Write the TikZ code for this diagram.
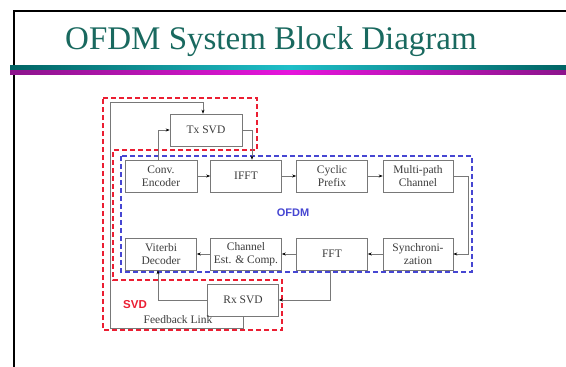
\documentclass[tikz,border=0pt]{standalone}
\usepackage{fontspec}
\setmainfont{Liberation Serif}
\setsansfont{Liberation Sans}
\usetikzlibrary{arrows.meta,calc}
\definecolor{titleteal}{RGB}{25,105,95}
\definecolor{boxgray}{RGB}{120,120,120}
\definecolor{txtgray}{RGB}{60,60,60}
\definecolor{svdred}{RGB}{235,30,50}
\definecolor{ofdmblue}{RGB}{70,70,210}
\definecolor{darkteal}{RGB}{0,100,100}
\definecolor{cyanbar}{RGB}{30,190,200}
\definecolor{purplebar}{RGB}{140,20,140}
\definecolor{magbar}{RGB}{230,20,220}
\tikzset{
  blk/.style={draw=boxgray, line width=0.6pt, fill=white, minimum width=71pt, minimum height=32pt,
    inner sep=0pt, align=center, text=txtgray, font=\fontsize{11.5}{12.5}\selectfont},
  conn/.style={draw=boxgray, line width=0.6pt},
  arr/.style={conn, -{Stealth[length=4pt,width=3pt,color=black]}},
  reddash/.style={draw=svdred, line width=1.3pt, dash pattern=on 5pt off 3pt},
  bluedash/.style={draw=ofdmblue, line width=1.3pt, dash pattern=on 5pt off 3pt}
}
\begin{document}
\begin{tikzpicture}[x=1pt,y=-1pt]
\useasboundingbox (0,0) rectangle (566,367);
\fill[white] (0,0) rectangle (566,367);
% slide frame
\draw[black, line width=1.4pt] (14,367) -- (14,11) -- (566,11);
% title
\node[text=titleteal, font=\fontsize{33}{36}\selectfont] (title) at (271,42) {OFDM System Block Diagram};
% bars
\shade[left color=darkteal, right color=darkteal, middle color=cyanbar] (10,65) rectangle (566,70);
\shade[left color=purplebar, right color=purplebar, middle color=magbar] (10,70) rectangle (566,74);
% dashed regions
\draw[reddash] (103,98) -- (257,98) -- (257,150) -- (113,150) -- (113,280) -- (282,280) -- (282,330) -- (103,330) -- cycle;
\draw[bluedash] (121,156) rectangle (472,272);
% blocks
\node[blk, minimum width=72pt] (tx) at (206,130) {Tx SVD};
\node[blk, minimum width=72pt] (conv) at (161,176) {Conv.\\Encoder};
\node[blk] (ifft) at (246,176) {IFFT};
\node[blk] (cp) at (332,176) {Cyclic\\Prefix};
\node[blk, minimum width=70pt] (mp) at (418,176) {Multi-path\\Channel};
\node[blk, minimum width=70pt] (sync) at (418,254) {Synchroni-\\zation};
\node[blk] (fft) at (332,254) {FFT};
\node[blk] (ch) at (246,254) {Channel\\Est. \& Comp.};
\node[blk] (vit) at (161,254) {Viterbi\\Decoder};
\node[blk] (rx) at (243,300) {Rx SVD};
% labels
\node[text=ofdmblue, font=\sffamily\bfseries\fontsize{11}{12}\selectfont] (ofdm) at (293,213) {OFDM};
\node[text=svdred, font=\sffamily\bfseries\fontsize{11.5}{12}\selectfont] (svd) at (135,305) {SVD};
\node[text=txtgray, font=\fontsize{11.5}{12}\selectfont, inner sep=1pt] (fbl) at (178,320) {Feedback Link};
% connectors
\draw[arr] ([xshift=-3pt]conv.north) |- (tx.west);
\draw[arr] (tx.east) -| ([xshift=6pt]ifft.north);
\draw[arr] (conv.east) -- (ifft.west);
\draw[arr] (ifft.east) -- (cp.west);
\draw[arr] (cp.east) -- (mp.west);
\coordinate (mpr) at (468,176);
\draw[arr] (mp.east) -- (mpr) |- (sync.east);
\draw[arr] (sync.west) -- (fft.east);
\draw[arr] (fft.west) -- (ch.east);
\draw[arr] (ch.west) -- (vit.east);
\draw[arr] ([xshift=-2pt]fft.south) |- (rx.east);
\draw[arr] (rx.west) -| ([xshift=-3pt]vit.south);
\coordinate (fb1) at (243,328);
\coordinate (fb2) at (110,102);
\draw[arr] (rx.south) -- (fb1) -| (fb2) -| ([xshift=-3pt]tx.north);
\end{tikzpicture}
\end{document}
